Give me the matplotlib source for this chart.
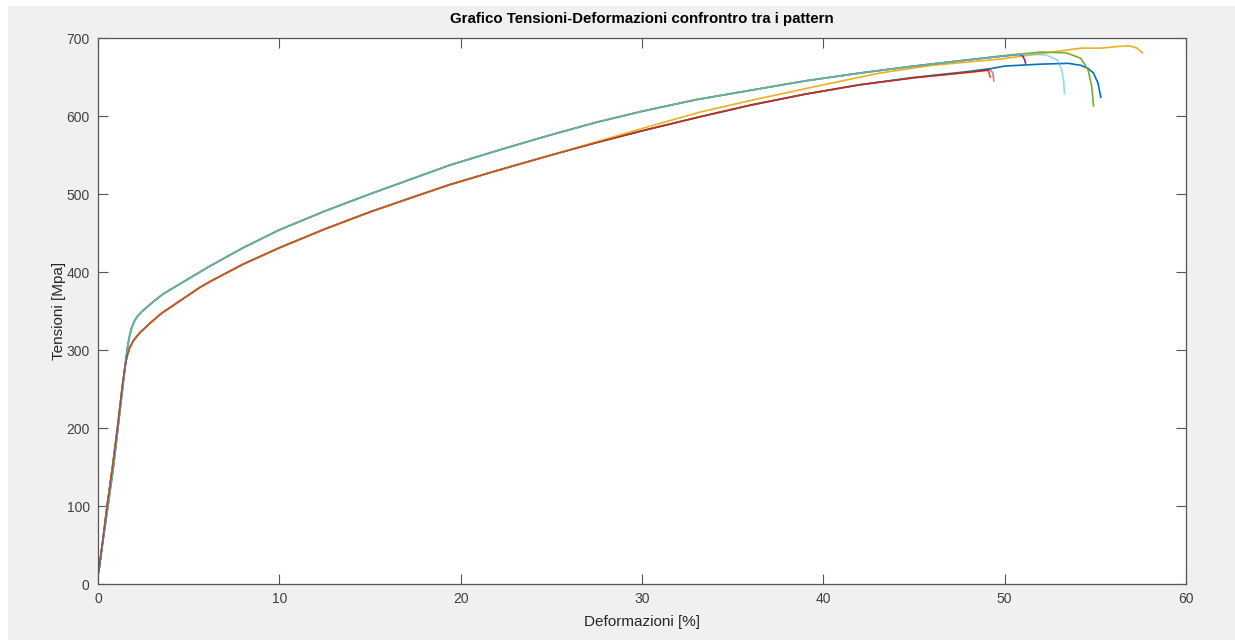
import numpy as np
import matplotlib.pyplot as plt
from matplotlib.patches import Rectangle

plt.rcParams['font.family'] = ['Liberation Sans', 'DejaVu Sans']

# shared early part of the upper group (purple, green, light blue)
up_x = [0.0, 0.05, 0.3, 0.55, 0.85, 1.1, 1.35, 1.55, 1.65, 1.75, 1.85, 2.0, 2.2, 2.5, 3.0,
        3.6, 4.9, 6.2, 8, 10, 12.5, 15, 17.5, 19.4, 22.5, 25, 27.5, 30, 33, 36, 39, 42,
        45, 48]
up_y = [12, 18, 60, 100, 150, 200, 250, 290, 307, 319, 328, 337, 344, 351, 361,
        372, 390, 408, 431, 454, 478, 500, 521, 537, 559, 576, 592, 606, 621, 633, 645, 655,
        664, 672]

# shared early part of the lower group (blue, orange, red, yellow)
lo_x = [0.0, 0.05, 0.3, 0.5, 0.8, 1.1, 1.35, 1.5, 1.6, 1.75, 1.95, 2.3, 2.9, 3.5, 4.2,
        5.6, 6.2, 8, 10, 12.5, 15, 17.5, 19.4, 22, 25, 27.5, 30, 33.2, 36, 39, 42]
lo_y = [12, 18, 62, 100, 150, 205, 255, 280, 292, 303, 312, 322, 335, 347, 358,
        380, 388, 410, 431, 455, 477, 497, 512, 530, 550, 566, 581, 599, 614, 628, 640]

# tails of every specimen
blue_x = [45, 48, 49.3, 50, 52, 53.5, 54.2, 54.6, 54.9, 55.15, 55.3]
blue_y = [649.5, 657, 661, 664, 666.5, 667.5, 665, 661, 655, 642, 624]
orange_x = [45, 48, 49.1, 49.2]
orange_y = [649, 656, 658.5, 650]
yellow_x = [27.5, 30, 33.2, 36, 40, 43.1, 46, 49.75, 52, 54.2, 55.3, 56.2, 56.9, 57.3, 57.6]
yellow_y = [567, 584, 605, 620, 640, 655, 665, 673, 680, 687, 687, 689, 690, 687, 681]
purple_x = [50.0, 50.8, 51.0, 51.1, 51.15]
purple_y = [677, 679, 677, 672, 668]
green_x = [50, 52, 53.4, 54.2, 54.6, 54.8, 54.9]
green_y = [677.5, 682, 681, 674, 659, 638, 613]
lblue_x = [50, 51.5, 52.3, 52.9, 53.15, 53.25, 53.3]
lblue_y = [677, 679.5, 678, 672, 659, 645, 629]
red_x = [45, 48, 49.2, 49.35, 49.4]
red_y = [649, 656, 659.5, 655, 645]

n_lo_yellow = 25  # yellow follows the lower group up to 25 %

series = [
    (lo_x + blue_x, lo_y + blue_y, '#0072BD', 1.0),
    (lo_x + orange_x, lo_y + orange_y, '#D95319', 1.0),
    (lo_x[:n_lo_yellow] + yellow_x, lo_y[:n_lo_yellow] + yellow_y, '#EDB120', 1.0),
    (up_x + purple_x, up_y + purple_y, '#7E2F8E', 1.0),
    (up_x + green_x, up_y + green_y, '#77AC30', 1.0),
    (up_x + lblue_x, up_y + lblue_y, '#4DBEEE', 0.6),
    (lo_x + red_x, lo_y + red_y, '#A2142F', 0.55),
]

fig = plt.figure(figsize=(12.35, 6.4), dpi=100, facecolor='#f0f0f0')
fig.patches.append(Rectangle((0, 1 - 5/640), 1, 5/640, transform=fig.transFigure,
                             color='white', zorder=-1))
fig.patches.append(Rectangle((0, 0), 7/1235, 1, transform=fig.transFigure,
                             color='white', zorder=-1))

ax = fig.add_axes([98/1235, 56/640, 1088/1235, 546/640])
for x, y, c, a in series:
    ax.plot(x, y, color=c, lw=1.2, alpha=a)

ax.set_xlim(0, 60)
ax.set_ylim(0, 700)
ax.set_xticks(np.arange(0, 61, 10))
ax.set_yticks(np.arange(0, 701, 100))
ax.tick_params(direction='in', length=7, width=0.8, top=True, right=True,
               labelsize=10, color='#555555', labelcolor='#404040', pad=6)
for s in ax.spines.values():
    s.set_color('#555555')
    s.set_linewidth(0.9)

ax.set_title('Grafico Tensioni-Deformazioni confrontro tra i pattern',
             fontsize=10.8, fontweight='bold', pad=11)
ax.set_xlabel('Deformazioni [%]', fontsize=11, color='#262626', labelpad=6)
ax.set_ylabel('Tensioni [Mpa]', fontsize=11, color='#262626', labelpad=0)

fig.savefig('out.png', dpi=100, facecolor=fig.get_facecolor())
